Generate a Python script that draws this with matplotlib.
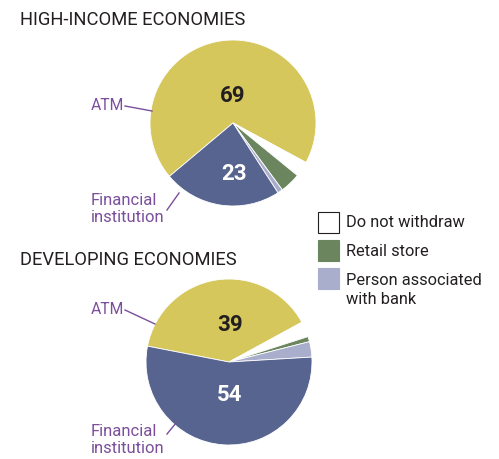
import matplotlib
matplotlib.use("Agg")
import matplotlib.pyplot as plt
from matplotlib.patches import Rectangle
from matplotlib.lines import Line2D

W, H = 499, 459
FONT = ['Roboto', 'DejaVu Sans']

categories = ["ATM", "Do not withdraw", "Retail store", "Person associated\nwith bank", "Financial\ninstitution"]
high_income = [69, 3, 4, 1, 23]
developing = [39, 3, 1, 3, 54]
colors = ["#D5C75B", "#FFFFFF", "#6B855F", "#A9AECC", "#57648F"]
titles = ["HIGH-INCOME ECONOMIES", "DEVELOPING ECONOMIES"]

fig = plt.figure(figsize=(W / 100, H / 100), dpi=100)
fig.patch.set_facecolor("white")

def fx(x):
    return x / W

def fy(y):
    return 1 - y / H

def pie_axes(cx, cy, r):
    return fig.add_axes([fx(cx - r), fy(cy + r), 2 * r / W, 2 * r / H])

def draw_pie(ax, values, startangle):
    ax.pie(values, colors=colors, startangle=startangle, counterclock=False,
           radius=1, wedgeprops=dict(edgecolor="white", linewidth=0.6))
    ax.set_xlim(-1, 1)
    ax.set_ylim(-1, 1)
    ax.set_aspect("equal")
    ax.axis("off")

ax1 = pie_axes(233, 123, 83)
draw_pie(ax1, high_income, 220)
ax2 = pie_axes(229, 362, 83)
draw_pie(ax2, developing, 169)

dark = "#231F20"
purple = "#7B4F9B"

fig.text(fx(20), fy(20), titles[0], fontsize=13.2, family=FONT, color=dark, ha="left", va="center")
fig.text(fx(20), fy(260), titles[1], fontsize=13.2, family=FONT, color=dark, ha="left", va="center")

fig.text(fx(233), fy(95.5), str(high_income[0]), fontsize=16, family=FONT, weight="bold", color=dark, ha="center", va="center")
fig.text(fx(234), fy(174), str(high_income[4]), fontsize=16, family=FONT, weight="bold", color="white", ha="center", va="center")
fig.text(fx(230.5), fy(325), str(developing[0]), fontsize=16, family=FONT, weight="bold", color=dark, ha="center", va="center")
fig.text(fx(229.5), fy(395), str(developing[4]), fontsize=16, family=FONT, weight="bold", color="white", ha="center", va="center")

fig.text(fx(91), fy(106), categories[0], fontsize=11.3, family=FONT, color=purple, ha="left", va="center")
fig.add_artist(Line2D([fx(125), fx(152)], [fy(106), fy(111)], color=purple, lw=1, transform=fig.transFigure))
fig.text(fx(91), fy(209), categories[4], fontsize=12, family=FONT, color=purple, ha="left", va="center", linespacing=1.15)
fig.add_artist(Line2D([fx(167), fx(179)], [fy(210), fy(193)], color=purple, lw=1, transform=fig.transFigure))

fig.text(fx(91), fy(310), categories[0], fontsize=11.3, family=FONT, color=purple, ha="left", va="center")
fig.add_artist(Line2D([fx(125), fx(155)], [fy(310), fy(324)], color=purple, lw=1, transform=fig.transFigure))
fig.text(fx(91), fy(440), categories[4], fontsize=12, family=FONT, color=purple, ha="left", va="center", linespacing=1.2)
fig.add_artist(Line2D([fx(167), fx(176)], [fy(434), fy(423)], color=purple, lw=1, transform=fig.transFigure))

legend_items = [(categories[1], colors[1], 222), (categories[2], colors[2], 251), (categories[3], colors[3], 290)]
box_tops = [212, 240, 268]
for (lab, col, ty), bt in zip(legend_items, box_tops):
    ec = dark if col == "#FFFFFF" else col
    fig.add_artist(Rectangle((fx(318), fy(bt + 21)), 21 / W, 21 / H, facecolor=col, edgecolor=ec,
                             lw=0.8, transform=fig.transFigure))
    fig.text(fx(346), fy(ty), lab, fontsize=11.8, family=FONT, color=dark, ha="left", va="center", linespacing=1.3)

fig.savefig("out.png", dpi=100, facecolor="white")
